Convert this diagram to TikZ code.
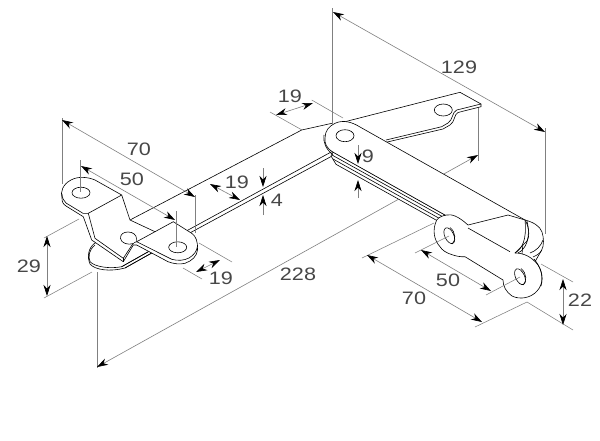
\documentclass[tikz,border=0pt]{standalone}
\usepackage{fontspec}
\setmainfont[FakeStretch=1.2]{Liberation Sans}
\usetikzlibrary{arrows.meta}
\definecolor{dimgray}{gray}{0.5}
\tikzset{
  ext/.style={draw=dimgray,line width=0.55pt},
  dimline/.style={draw=dimgray,line width=0.6pt,{Stealth[length=11pt,width=7pt,inset=3.5pt,black]}-{Stealth[length=11pt,width=7pt,inset=3.5pt,black]}},
  tipend/.style={draw=dimgray,line width=0.6pt,-{Stealth[length=11pt,width=7pt,inset=3.5pt,black]}},
  part/.style={draw=black,line width=0.6pt,fill=white,line join=round},
  edge/.style={draw=black,line width=0.6pt,line join=round},
  hole/.style={draw=black,line width=0.6pt,fill=white},
  lab/.style={font=\fontsize{18}{20}\selectfont,text=black!72,inner sep=0pt}
}
\begin{document}
\begin{tikzpicture}[x=1pt,y=-1pt]
\useasboundingbox (0,0) rectangle (600,440);
\fill[white] (0,0) rectangle (600,440);
% lines that pass behind the parts
\draw[ext] (332,8) -- (332,124);
\draw[ext] (545,128) -- (545,234);
\draw[ext] (478,104) -- (478,161);
\draw[ext] (97,272) -- (97,368);
\draw[ext] (62,118) -- (62,184);
\draw[ext] (270,112) -- (302,130);
\draw[ext] (311.7,100) -- (343,118);
\draw[ext] (79,219) -- (44,238);
\draw[ext] (92,272) -- (44,298);
\draw[ext] (362,258) -- (434,223);
\draw[ext] (475,327) -- (527,302);
\draw[ext] (541,264) -- (573,282);
\draw[ext] (527,302) -- (573,330);
\draw[dimline] (97,367) -- (478,155);
% rear leaf, upper right
\draw[part] (345,121.7) -- (460,92.3) -- (481,104) -- (481,106.7) -- (458,112.5) .. controls (454,114) and (455,122) .. (450,125) -- (443,129) -- (386,142.3) -- (340,150) -- cycle;
\draw[edge] (481,104) -- (456.7,110) .. controls (452,112) and (453,120) .. (448,123) -- (441.7,126.7) -- (386,140);
% left upper plate
\fill[white] (130,220) -- (301.7,130) -- (332,123) -- (332,153) -- (187,235) -- cycle;
\draw[edge] (95,238.3) -- (130,220) -- (301.7,130) -- (332,123.3);
\draw[edge] (185,231.7) -- (331.7,151.7);
\draw[edge] (187,234.5) -- (333,155.5);
% left bracket: lower disc
\draw[part] (95,243) .. controls (88,248) and (87,257) .. (90,264) .. controls (95,270) and (110,272) .. (125,268) -- (151.7,253) -- (140,238) -- cycle;
\draw[edge] (95,245) .. controls (89,250) and (88,256) .. (90,261.7) .. controls (95,267) and (110,269) .. (121.7,266.7) -- (148.3,251.7);
% left bracket
\draw[part] (95,180) .. controls (88,177) and (78,176) .. (71,180) .. controls (63,184) and (60,192) .. (62,198) .. controls (62,202) and (63,204) .. (66,206) -- (83.3,216.7) -- (91.7,240) -- (123.3,261.7) -- (133.3,245) -- (136.7,245) -- (168,261.7) .. controls (174,264) and (180,264.5) .. (185,263.3) .. controls (192,261) and (197,256) .. (197.5,250) .. controls (198,242) and (196,236) .. (191.7,233.3) -- (173.3,221.7) -- (155,231.7) -- (130,220) -- (121.7,195) -- cycle;
\draw[edge] (88.3,213.3) -- (121.7,195);
\draw[edge] (62,194) .. controls (62,198) and (64,201) .. (66,203) -- (83,213.3) -- (88.3,213.3) -- (95,238.3) -- (123.3,258.3) -- (133.3,243) -- (136.7,241.7) -- (171.7,259.3) .. controls (178,261) and (184,260.5) .. (189,258) .. controls (194,255) and (197,251) .. (197.5,246);
\draw[edge] (136.7,241.7) -- (155,231.7);
\draw[edge] (123.3,258.3) -- (123.3,261.7);
\draw[edge] (125,268) -- (151.7,253);
\draw[edge] (121.7,266.7) -- (148.3,251.7);
\fill[white] (128.3,238.3) ellipse (8 and 6);
\draw[hole] (81,192.7) ellipse (9 and 5.5);
\draw[hole] (177.7,247.3) ellipse (9 and 5.5);
\draw[edge] (133.5,243.5) .. controls (128,245.5) and (121,243) .. (120.5,238.5) .. controls (120,234) and (124,232) .. (128,232) .. controls (133,232) and (136.5,235) .. (136.5,238.5);
\draw[edge] (137,242) -- (136.5,238.5);
% leaf stack
\draw[part] (333,152) -- (445,215) -- (436.7,220.4) -- (336,164.3) -- (331,156) -- cycle;
\draw[edge] (332,155) -- (443,216.9);
\draw[edge] (333,159) -- (439,218.2);
% right end back
\draw[part] (525,220) .. controls (533,222) and (540,226) .. (542,232) .. controls (544,238) and (544,246) .. (541.7,250) -- (535,261.7) -- (522,254) -- cycle;
\draw[edge] (530,253) .. controls (536,251) and (541,246) .. (543,240);
\draw[edge] (533,257) .. controls (538,255) and (541,252) .. (541.7,250);
% main bar face
\draw[part] (335,123.3) .. controls (343,119.5) and (352,122) .. (360,127) -- (525,220) -- (515,253) -- (468,228) -- (445,215) -- (333.3,152.3) .. controls (326,148) and (324.5,143) .. (325,138) .. controls (325,131) and (329,126) .. (335,123.3) -- cycle;
\draw[edge] (324,135) .. controls (323,143) and (326,149) .. (333,155);
% right lower leaves
\draw[part] (446.7,215) .. controls (452,214) and (458,216) .. (468,225) -- (508,215) -- (525,220) .. controls (530,228) and (530,240) .. (525,243) -- (515,253) .. controls (524,253) and (532,257) .. (538,265) .. controls (543,272) and (544,284) .. (537,291) .. controls (531,298) and (520,300) .. (512,296) .. controls (506,292) and (503,286) .. (503,280) -- (465,256.7) .. controls (460,257) and (456,256) .. (453,255) .. controls (446,253) and (442,250) .. (440,246.7) .. controls (434,240) and (432,230) .. (436.7,220) .. controls (439,217) and (443,215.5) .. (446.7,215) -- cycle;
\draw[edge] (468,228) -- (510,251.7);
\draw[edge] (515,253) .. controls (522,249) and (527,240) .. (525,220);
\draw[edge] (518,253) .. controls (526,249) and (531,238) .. (527,221);
\draw[edge] (534,259) .. controls (540,266) and (544,276) .. (541,286);
\draw[hole] (345,135.7) ellipse (9 and 6);
\draw[hole] (443.3,110) ellipse (9 and 6);
\draw[hole,rotate around={25:(449.3,235.7)}] (449.3,235.7) ellipse (4.5 and 8.5);
\draw[hole,rotate around={25:(520,276.7)}] (520,276.7) ellipse (4.5 and 8.5);
\draw[edge] (450,227.5) .. controls (456,232) and (456,241) .. (452,244);
\draw[edge] (521,268.5) .. controls (527,273) and (527,282) .. (523,285);
% lines drawn over the parts
\draw[ext] (195,195) -- (195,233);
\draw[ext] (80.7,160) -- (80.7,192);
\draw[ext] (176.7,211) -- (176.7,247);
\draw[ext] (199,243) -- (232,262);
\draw[ext] (183,268) -- (202,279);
\draw[ext] (415,253) -- (449,236);
\draw[ext] (486,295) -- (520,277);
\draw[dimline] (333,12) -- (545,132);
\draw[dimline] (62,120) -- (195,197);
\draw[dimline] (81,166) -- (175,220);
\draw[dimline] (196,272) -- (220,260);
\draw[dimline] (210,184) -- (240,200);
\draw[dimline] (276,115) -- (313,103);
\draw[dimline] (47,236) -- (47,296);
\draw[dimline] (367,255) -- (482,322);
\draw[dimline] (421,250) -- (491,291);
\draw[dimline] (563,279) -- (563,325);
\draw[tipend] (263,168) -- (263,187);
\draw[tipend] (263,215) -- (263,195);
\draw[tipend] (358,145) -- (358,164);
\draw[tipend] (358,198) -- (358,180);
% labels
\node[lab] (t129) at (459,67) {129};
\node[lab] (t19a) at (290,96) {19};
\node[lab] (t70a) at (139,149) {70};
\node[lab] (t50a) at (132,179) {50};
\node[lab] (t19b) at (237,182) {19};
\node[lab] (t9) at (368,156) {9};
\node[lab] (t4) at (277,200) {4};
\node[lab] (t29) at (29,266) {29};
\node[lab] (t19c) at (221,278) {19};
\node[lab] (t228) at (298,274) {228};
\node[lab] (t50b) at (448,280) {50};
\node[lab] (t70b) at (414,298) {70};
\node[lab] (t22) at (580,300) {22};
\end{tikzpicture}
\end{document}
